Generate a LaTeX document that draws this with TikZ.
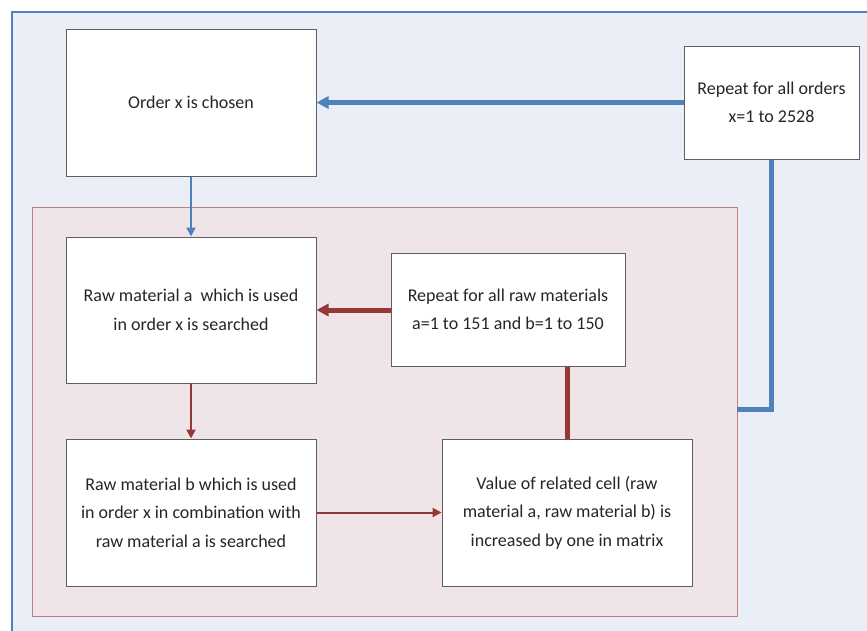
\documentclass[tikz,border=0pt]{standalone}
\usepackage{fontspec}
\setmainfont{Carlito}
\usetikzlibrary{arrows.meta}
\definecolor{outerfill}{HTML}{EAEFF7}
\definecolor{outerline}{HTML}{4F81BD}
\definecolor{innerfill}{HTML}{EFE4E7}
\definecolor{innerline}{HTML}{C0807F}
\definecolor{flowblue}{HTML}{4F81BD}
\definecolor{flowred}{HTML}{953735}
\definecolor{boxline}{HTML}{5F5F5F}
\tikzset{
  px/.style={x=1pt,y=-1pt},
  stepbox/.style={draw=boxline, line width=1pt, fill=white, align=center,
    font=\fontsize{18}{28.5}\selectfont, text=black!85},
  bluethick/.style={draw=flowblue, line width=5pt},
  bluethin/.style={draw=flowblue, line width=2pt},
  redthick/.style={draw=flowred, line width=5pt},
  redthin/.style={draw=flowred, line width=2pt},
  tip/.style={-{Triangle[length=12pt,width=12pt]}},
  tipsmall/.style={-{Triangle[length=9pt,width=9pt]}},
}
\begin{document}
\begin{tikzpicture}[px]
\useasboundingbox (0,0) rectangle (867,630);
\fill[white] (0,0) rectangle (867,630);
% outer loop frame
\filldraw[fill=outerfill, draw=outerline, line width=2pt] (12,12) rectangle (880,640);
% inner loop frame
\filldraw[fill=innerfill, draw=innerline, line width=1pt] (32,207) rectangle (737,616);
% steps
\node[stepbox, minimum width=250pt, minimum height=147pt] (order) at (191,102.5) {Order x is chosen};
\node[stepbox, minimum width=175pt, minimum height=113pt] (reporders) at (771.5,102.5) {Repeat for all orders\\x=1 to 2528};
\node[stepbox, minimum width=250pt, minimum height=146pt] (rawa) at (191,310) {Raw material a\ \ which is used\\in order x is searched};
\node[stepbox, minimum width=234pt, minimum height=113pt] (repraw) at (508,309.5) {Repeat for all raw materials\\a=1 to 151 and b=1 to 150};
\node[stepbox, minimum width=250pt, minimum height=147pt] (rawb) at (191,512.5) {Raw material b which is used\\in order x in combination with\\raw material a is searched};
\node[stepbox, minimum width=250pt, minimum height=147pt] (value) at (567,512.5) {Value of related cell (raw\\material a, raw material b) is\\increased by one in matrix};
\coordinate (outerret) at (737,409);
% connectors of the order loop
\draw[bluethick, tip] (reporders.west) -- (order.east);
\draw[bluethick] (reporders.south) |- (outerret);
\draw[bluethin, tipsmall] (order.south) -- (rawa.north);
% connectors of the raw material loop
\draw[redthick, tip] (repraw.west |- rawa.east) -- (rawa.east);
\draw[redthin, tipsmall] (rawa.south) -- (rawb.north);
\draw[redthin, tipsmall] (rawb.east) -- (value.west);
\draw[redthick] (value.north) -- (value.north |- repraw.south);
\end{tikzpicture}
\end{document}
